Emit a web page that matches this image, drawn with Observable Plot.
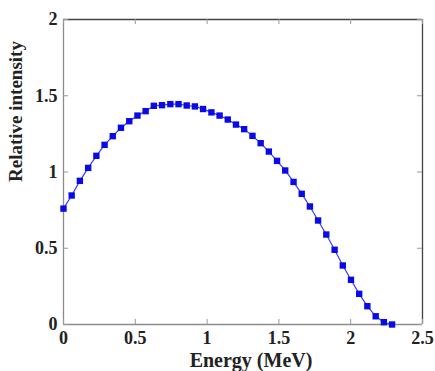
<!DOCTYPE html>
<html>
<head>
<meta charset="utf-8">
<script src="https://cdn.jsdelivr.net/npm/d3@7"></script>
<script src="https://cdn.jsdelivr.net/npm/@observablehq/plot@0.6"></script>
<style>
  html, body { margin: 0; padding: 0; background: #fff; }
</style>
</head>
<body>
<div id="chart"></div>
<script>
const energy = [0, 0.057, 0.114, 0.172, 0.229, 0.286, 0.343, 0.400, 0.458, 0.515,
  0.572, 0.629, 0.686, 0.744, 0.801, 0.858, 0.915, 0.972, 1.030, 1.087,
  1.144, 1.201, 1.258, 1.316, 1.373, 1.430, 1.487, 1.544, 1.602, 1.659,
  1.716, 1.773, 1.830, 1.888, 1.945, 2.002, 2.059, 2.116, 2.174, 2.231, 2.288];
const intensity = [0.76, 0.846, 0.942, 1.027, 1.106, 1.178, 1.235, 1.290, 1.333, 1.370,
  1.399, 1.434, 1.438, 1.445, 1.445, 1.436, 1.430, 1.413, 1.391, 1.370,
  1.344, 1.311, 1.281, 1.237, 1.189, 1.134, 1.073, 1.010, 0.935, 0.857,
  0.774, 0.682, 0.590, 0.490, 0.387, 0.293, 0.201, 0.120, 0.054, 0.015, 0.0];
const xTicks = [0, 0.5, 1, 1.5, 2, 2.5];
const yTicks = [0, 0.5, 1, 1.5, 2];
const xLabel = "Energy (MeV)";
const yLabel = "Relative intensity";

const data = energy.map((e, i) => ({e, v: intensity[i]}));
const fmt = d => String(d);

const chart = Plot.plot({
  width: 435,
  height: 371,
  marginLeft: 63,
  marginRight: 13,
  marginTop: 19,
  marginBottom: 47,
  style: {fontFamily: "'Liberation Serif', 'Times New Roman', serif", fontSize: "18px", fontWeight: "bold", color: "#222", background: "#fff"},
  x: {domain: [0, 2.5]},
  y: {domain: [0, 2]},
  marks: [
    Plot.ruleY([0], {stroke: "#8c8c8c", strokeWidth: 1.3}),
    Plot.ruleX([0], {stroke: "#8c8c8c", strokeWidth: 1.3}),
    Plot.ruleY([2], {stroke: "#444", strokeWidth: 1.3}),
    Plot.ruleX([2.5], {stroke: "#444", strokeWidth: 1.3}),
    Plot.axisX({ticks: xTicks, tickSize: 0, tickPadding: 7, tickFormat: fmt, label: null, anchor: "bottom"}),
    Plot.axisY({ticks: yTicks, tickSize: 0, tickPadding: 6, tickFormat: fmt, label: null, anchor: "left"}),
    Plot.ruleX(xTicks, {x: d => d, y1: 0, y2: 0.033, stroke: "#999"}),
    Plot.ruleX(xTicks, {x: d => d, y1: 1.967, y2: 2, stroke: "#999"}),
    Plot.ruleY(yTicks, {y: d => d, x1: 0, x2: 0.035, stroke: "#999"}),
    Plot.ruleY(yTicks, {y: d => d, x1: 2.465, x2: 2.5, stroke: "#999"}),
    Plot.line(data, {x: "e", y: "v", stroke: "#3a3aff", strokeWidth: 1.2}),
    Plot.dot(data, {x: "e", y: "v", symbol: "square", r: 3.6, fill: "#0a0ae6", stroke: "none"}),
    Plot.text([xLabel], {text: d => d, frameAnchor: "bottom", lineAnchor: "top", dx: 8, dy: 28, fontSize: 20, fontWeight: "bold"}),
    Plot.text([yLabel], {text: d => d, frameAnchor: "left", dx: -48, dy: 10, rotate: -90, fontSize: 19, fontWeight: "bold"})
  ]
});
document.getElementById("chart").appendChild(chart);
</script>
</body>
</html>
